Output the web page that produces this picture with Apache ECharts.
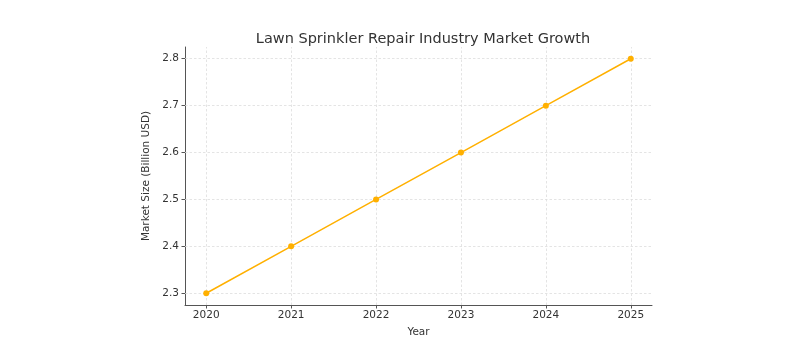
<!DOCTYPE html>
<html><head><meta charset="utf-8">
<script src="https://cdn.jsdelivr.net/npm/echarts@6/dist/echarts.min.js"></script>
<style>html,body{margin:0;padding:0;background:#fff}#c{width:796px;height:343px}</style>
</head><body><div id="c"></div>
<script>
const years = [2020, 2021, 2022, 2023, 2024, 2025];
const marketSize = [2.3, 2.4, 2.5, 2.6, 2.7, 2.8];
const yTicks = [2.3, 2.4, 2.5, 2.6, 2.7, 2.8];
const titleText = 'Lawn Sprinkler Repair Industry Market Growth';
const xName = 'Year';
const yName = 'Market Size (Billion USD)';

const font = 'DejaVu Sans';
const gridStyle = {color: '#dddddd', width: 0.8, type: [2.5, 2]};
const chart = echarts.init(document.getElementById('c'));
chart.setOption({
  animation: false,
  backgroundColor: '#fff',
  title: {text: titleText, left: 418, top: 27, textAlign: 'center',
    textStyle: {fontFamily: font, fontSize: 14.5, fontWeight: 'normal', color: '#333'}},
  grid: {left: 185, width: 467, top: 47, height: 262},
  xAxis: {
    type: 'value', min: 2019.75, max: 2025.25,
    name: xName, nameLocation: 'middle', nameGap: 22,
    nameTextStyle: {fontFamily: font, fontSize: 10.5, color: '#333'},
    axisLine: {show: true, lineStyle: {color: '#555', width: 1}},
    axisTick: {show: true, customValues: years, length: 3.5, lineStyle: {color: '#555'}},
    axisLabel: {customValues: years, fontFamily: font, fontSize: 10.5, color: '#333', margin: 5,
      formatter: v => String(v)},
    splitLine: {show: false}
  },
  yAxis: {
    type: 'value', min: 2.275, max: 2.825,
    name: yName, nameLocation: 'middle', nameGap: 31, nameRotate: 90,
    nameTextStyle: {fontFamily: font, fontSize: 10.5, color: '#333'},
    axisLine: {show: true, lineStyle: {color: '#555', width: 1}},
    axisTick: {show: true, customValues: yTicks, length: 3.5, lineStyle: {color: '#555'}},
    axisLabel: {customValues: yTicks, fontFamily: font, fontSize: 10.5, color: '#333', margin: 6,
      formatter: v => v.toFixed(1)},
    splitLine: {show: false}
  },
  series: [
    {type: 'line', data: years.map((y, i) => [y, marketSize[i]]),
     symbol: 'circle', symbolSize: 6,
     lineStyle: {color: '#FFB000', width: 1.5},
     itemStyle: {color: '#FFB000'},
     z: 5,
     markLine: {silent: true, symbol: 'none', label: {show: false},
       lineStyle: gridStyle,
       data: years.map(y => ({xAxis: y})).concat(yTicks.map(v => ({yAxis: v})))}
    }
  ]
});
</script></body></html>
